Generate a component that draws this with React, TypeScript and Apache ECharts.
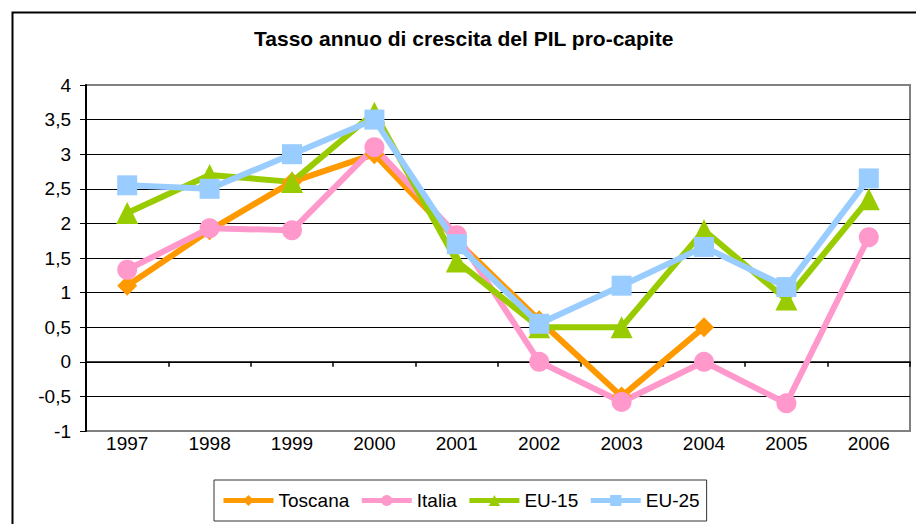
import React, { useEffect, useRef } from "react";
import * as echarts from "echarts";

const years = ["1997", "1998", "1999", "2000", "2001", "2002", "2003", "2004", "2005", "2006"];
const toscana = [1.1, 1.9, 2.6, 3.0, 1.75, 0.6, -0.5, 0.5, null, null];
const italia = [1.33, 1.93, 1.9, 3.1, 1.83, 0.0, -0.58, 0.0, -0.6, 1.8];
const eu15 = [2.15, 2.7, 2.6, 3.6, 1.45, 0.5, 0.5, 1.9, 0.9, 2.35];
const eu25 = [2.55, 2.5, 3.0, 3.5, 1.7, 0.55, 1.1, 1.66, 1.08, 2.65];
const titleText = "Tasso annuo di crescita del PIL pro-capite";

const FONT = '"Liberation Sans", Arial, sans-serif';

export default function App() {
  const ref = useRef<HTMLDivElement>(null);
  useEffect(() => {
    if (!ref.current) return;
    const chart = echarts.init(ref.current, undefined, { renderer: "svg" });
    const mk = (name: string, data: (number | null)[], color: string, symbol: string, size: number) => ({
      name,
      type: "line",
      data,
      symbol,
      symbolSize: size,
      connectNulls: false,
      xAxisIndex: 0,
      yAxisIndex: 0,
      lineStyle: { width: 6, color },
      itemStyle: { color, borderWidth: 0 },
    });
    const splitColors = ["#808080", "#000", "#000", "#000", "#000", "#000", "#000", "#000", "#000", "#000"];
    chart.setOption({
      animation: false,
      backgroundColor: "#fff",
      textStyle: { fontFamily: FONT },
      title: {
        text: titleText,
        left: 254,
        top: 28,
        padding: 0,
        textStyle: { fontSize: 21, fontWeight: "bold", color: "#000", fontFamily: FONT },
      },
      graphic: [
        {
          type: "rect",
          left: 10,
          top: 10,
          shape: { width: 1000, height: 1000 },
          style: { fill: "none", stroke: "#000", lineWidth: 2 },
          silent: true,
        },
      ],
      grid: {
        left: 86,
        right: 6,
        top: 85,
        bottom: 93,
        show: true,
        borderColor: "#808080",
        borderWidth: 2,
        containLabel: false,
      },
      legend: {
        left: 214,
        top: 480,
        padding: [11, 7],
        borderColor: "#333",
        borderWidth: 1,
        itemWidth: 50,
        itemHeight: 14,
        itemGap: 10,
        lineStyle: { width: 5 },
        textStyle: { fontSize: 19, color: "#000", fontFamily: FONT },
        data: ["Toscana", "Italia", "EU-15", "EU-25"],
      },
      xAxis: [
        {
          type: "category",
          data: years,
          position: "bottom",
          boundaryGap: true,
          axisLine: { show: false, onZero: false },
          axisTick: { show: false },
          axisLabel: { fontSize: 19, color: "#000", margin: 3, fontFamily: FONT },
          splitLine: { show: false },
        },
        {
          type: "category",
          data: years,
          position: "top",
          boundaryGap: true,
          axisLine: { show: true, onZero: true, lineStyle: { color: "#000", width: 1.5 } },
          axisTick: { show: true, inside: true, length: 5, lineStyle: { color: "#000", width: 1.5 } },
          axisLabel: { show: false },
          splitLine: { show: false },
        },
      ],
      yAxis: {
        type: "value",
        min: -1,
        max: 4,
        interval: 0.5,
        axisLine: { show: true, lineStyle: { color: "#000", width: 2 } },
        axisTick: { show: true, length: 6, lineStyle: { color: "#000", width: 1 } },
        axisLabel: {
          fontSize: 19,
          color: "#000",
          margin: 15,
          fontFamily: FONT,
          formatter: (v: number) => String(v).replace(".", ","),
        },
        splitLine: { show: true, lineStyle: { color: splitColors, width: 1 } },
      },
      series: [
        mk("Toscana", toscana, "#FF9900", "diamond", 20),
        mk("Italia", italia, "#FF99CC", "circle", 20),
        mk("EU-15", eu15, "#99CC00", "triangle", 22),
        mk("EU-25", eu25, "#99CCFF", "rect", 20),
      ],
    });
    return () => chart.dispose();
  }, []);
  return (
    <div
      ref={ref}
      style={{ position: "fixed", left: 0, top: 0, width: 916, height: 524, background: "#fff" }}
    />
  );
}
